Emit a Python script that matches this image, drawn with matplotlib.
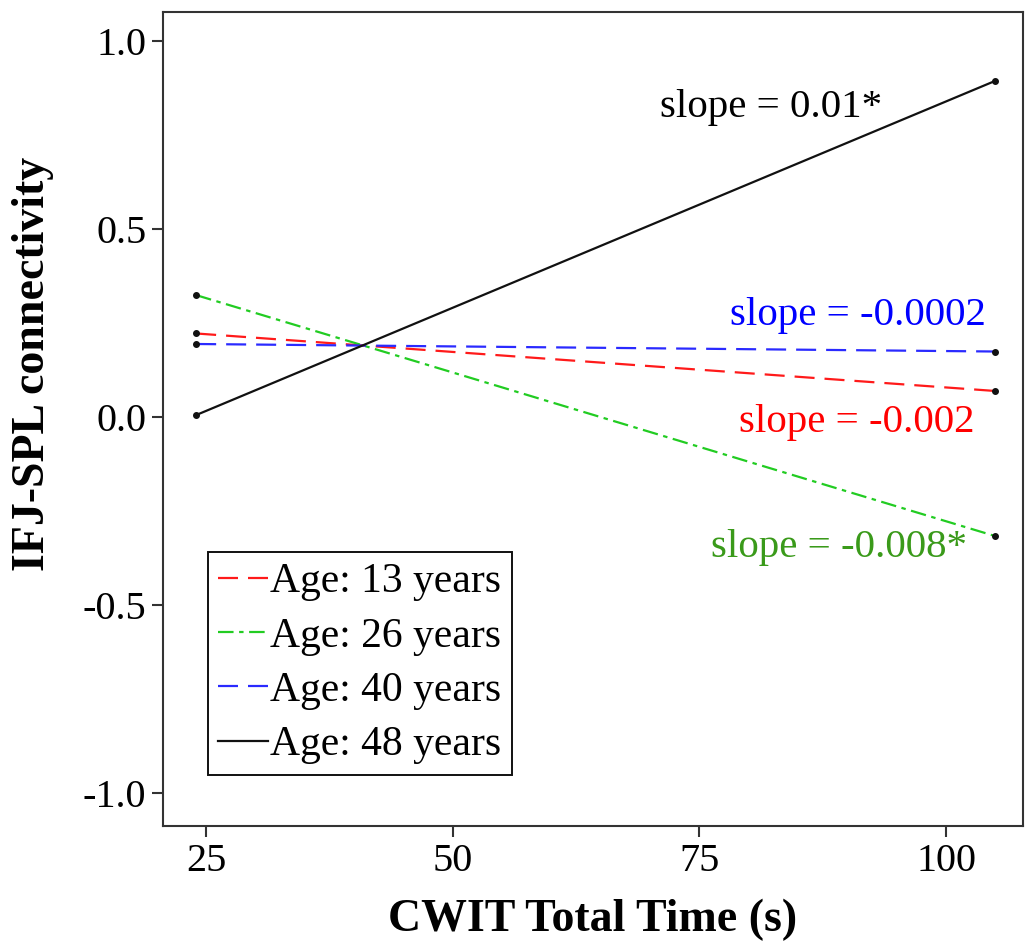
import numpy as np
import matplotlib.pyplot as plt

plt.rcParams["font.family"] = ["Liberation Serif", "DejaVu Serif"]
plt.rcParams["axes.unicode_minus"] = False

# data
x_ends = [24, 105]
ages = ["Age: 13 years", "Age: 26 years", "Age: 40 years", "Age: 48 years"]
y13 = [0.222, 0.069]
y26 = [0.324, -0.317]
y40 = [0.194, 0.174]
y48 = [0.005, 0.894]
line_colors = ["#ff1a1a", "#22cc22", "#2a2aff", "#111111"]
line_styles = [(0, (9, 4.5)), (0, (7, 2.5, 2, 2.5)), (0, (9, 4.5)), "-"]

slope_texts = ["slope = -0.002", "slope = -0.008*", "slope = -0.0002", "slope = 0.01*"]
slope_colors = ["#ff0000", "#3a9a1a", "#0000ff", "#000000"]
slope_x = [90.9, 89.2, 91.1, 82.3]
slope_y = [-0.016, -0.348, 0.269, 0.824]

xticks = [25, 50, 75, 100]
yticks = [1.0, 0.5, 0.0, -0.5, -1.0]
ytick_labels = ["1.0", "0.5", "0.0", "-0.5", "-1.0"]

fig = plt.figure(figsize=(10.29, 9.51), dpi=100)
ax = fig.add_axes([0.1584, 0.1314, 0.8358, 0.856])

series = [y13, y26, y40, y48]
for ys, lab, c, ls in zip(series, ages, line_colors, line_styles):
    ax.plot(x_ends, ys, color=c, linestyle=ls, linewidth=1.6, label=lab)
    ax.plot(x_ends, ys, "o", color="#111111", markersize=4, zorder=3)

for t, c, tx, ty in zip(slope_texts, slope_colors, slope_x, slope_y):
    ax.text(tx, ty, t, color=c, fontsize=29.5, ha="center", va="center")

ax.set_xlim(20.64, 107.8)
ax.set_ylim(-1.088, 1.077)
ax.set_xticks(xticks)
ax.set_yticks(yticks)
ax.set_yticklabels(ytick_labels)
ax.tick_params(axis="both", labelsize=29, length=8, width=1.5, color="#333333", pad=4)

for s in ax.spines.values():
    s.set_linewidth(1.5)
    s.set_color("#333333")

ax.set_xlabel("CWIT Total Time (s)", fontsize=33, fontweight="bold", labelpad=14)
ax.set_ylabel("IFJ-SPL connectivity", fontsize=33, fontweight="bold")
ax.yaxis.set_label_coords(-0.127, 0.568)

leg = ax.legend(loc="lower left", bbox_to_anchor=(0.052, 0.063), borderaxespad=0,
                fontsize=30, handlelength=1.2, handletextpad=0.05, labelspacing=0.38,
                borderpad=0.25, fancybox=False, framealpha=1)
leg.get_frame().set_edgecolor("#111111")
leg.get_frame().set_linewidth(1.4)

fig.savefig("out.png", dpi=100)
